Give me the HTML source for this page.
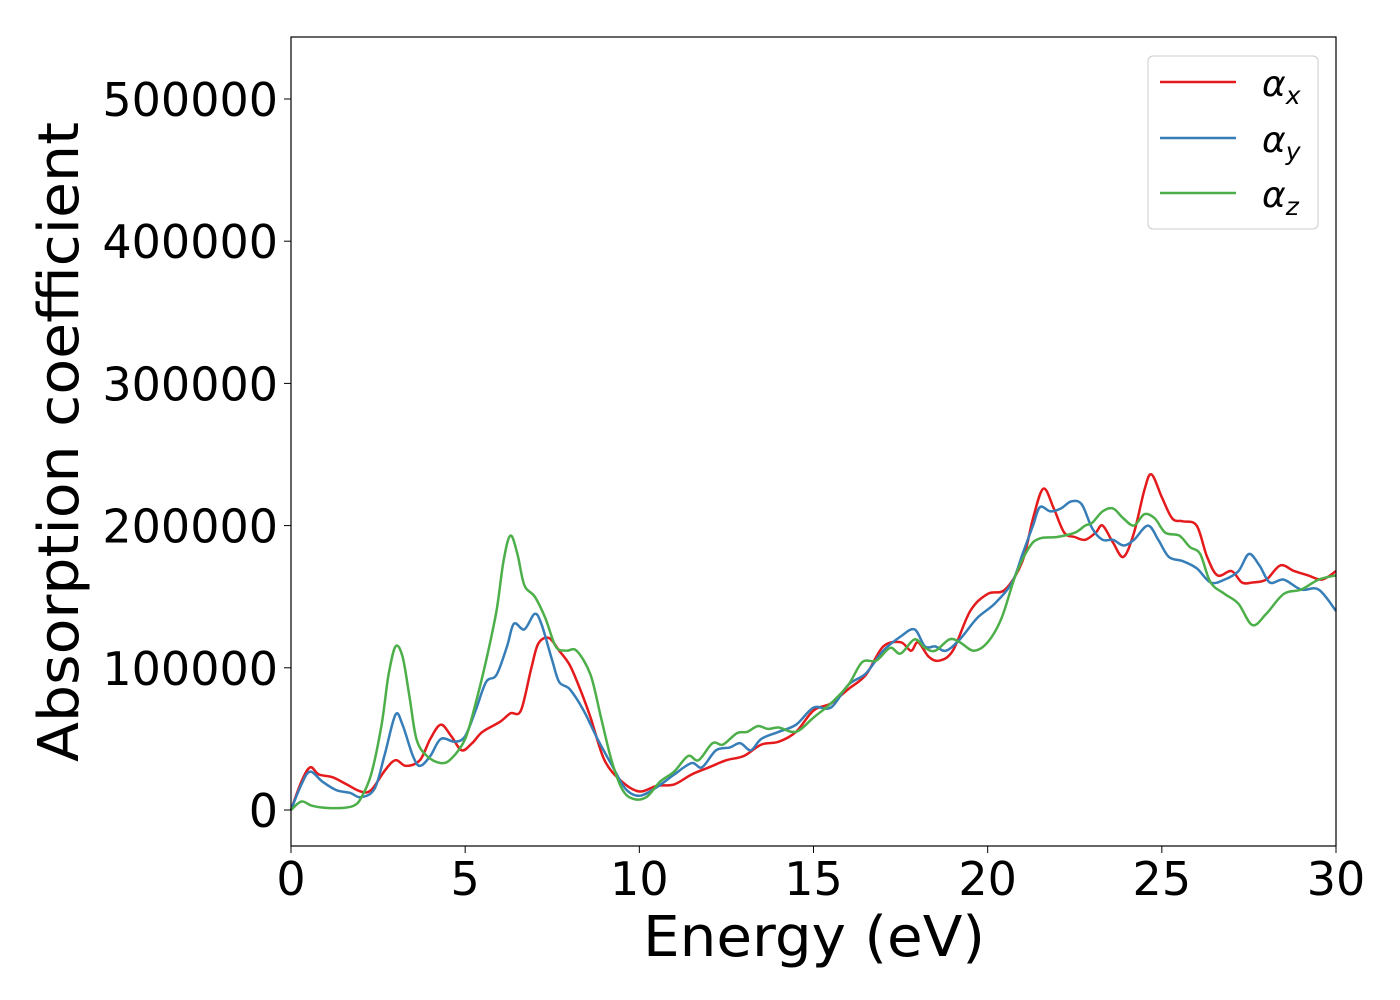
<!DOCTYPE html>
<html><head><meta charset="utf-8"><style>
body{margin:0;background:#fff;}
svg{display:block;font-family:"DejaVu Sans","Liberation Sans",sans-serif;}
</style></head><body>
<svg id="chart" width="1400" height="1000" viewBox="0 0 1400 1000" xmlns="http://www.w3.org/2000/svg">
<rect x="0" y="0" width="1400" height="1000" fill="#fff"/>
<g id="series"></g>
<rect x="291" y="37" width="1045" height="809" fill="none" stroke="#000" stroke-width="1.2"/>
<g id="xticks"></g><g id="yticks"></g>
<text x="814" y="956" font-size="56" text-anchor="middle" textLength="342" lengthAdjust="spacingAndGlyphs">Energy (eV)</text>
<text transform="translate(78,442) rotate(-90)" font-size="56" text-anchor="middle" textLength="640" lengthAdjust="spacingAndGlyphs">Absorption coefficient</text>
<g>
<rect x="1148" y="56" width="170" height="173" rx="5" fill="#fff" stroke="#ccc" stroke-width="1"/>
<line x1="1160" y1="82" x2="1236" y2="82" stroke="#e41a1c" stroke-width="2.5"/>
<line x1="1160" y1="138" x2="1236" y2="138" stroke="#377eb8" stroke-width="2.5"/>
<line x1="1160" y1="193" x2="1236" y2="193" stroke="#4daf4a" stroke-width="2.5"/>
<text x="1262" y="96" font-size="36" font-style="italic">α<tspan font-size="25" dy="8">x</tspan></text>
<text x="1262" y="152" font-size="36" font-style="italic">α<tspan font-size="25" dy="8">y</tspan></text>
<text x="1262" y="207" font-size="36" font-style="italic">α<tspan font-size="25" dy="8">z</tspan></text>
</g>
</svg>
<script>
const xTicks=[0,5,10,15,20,25,30];
const yTicks=[0,100000,200000,300000,400000,500000];
const ax=[[0,0],[0.3,20000],[0.55,30000],[0.8,25000],[1.2,23000],[1.6,18000],[2,13000],[2.3,14000],[2.7,28000],[3,35000],[3.3,31000],[3.7,35000],[4,50000],[4.3,60000],[4.6,52000],[4.9,42000],[5.2,47000],[5.5,55000],[6,62000],[6.3,68000],[6.6,70000],[6.9,100000],[7.1,117000],[7.4,121000],[7.7,112000],[8,102000],[8.3,85000],[8.6,65000],[9,35000],[9.5,20000],[10,13000],[10.5,17000],[11,18000],[11.5,25000],[12,30000],[12.5,35000],[13,38000],[13.5,46000],[14,48000],[14.5,55000],[15,70000],[15.5,75000],[16,85000],[16.5,95000],[17,115000],[17.5,118000],[17.8,112000],[18,118000],[18.3,108000],[18.6,105000],[19,112000],[19.5,140000],[20,152000],[20.5,155000],[21,175000],[21.3,205000],[21.6,226000],[21.9,212000],[22.2,195000],[22.5,192000],[22.8,190000],[23.1,195000],[23.3,200000],[23.6,188000],[23.9,178000],[24.2,195000],[24.5,225000],[24.7,236000],[25,220000],[25.3,205000],[25.6,203000],[26,200000],[26.3,178000],[26.6,165000],[27,168000],[27.3,160000],[27.6,160000],[28,162000],[28.4,172000],[28.8,168000],[29.2,165000],[29.6,162000],[30,168000]];
const ay=[[0,0],[0.3,18000],[0.55,27000],[0.9,20000],[1.3,14000],[1.7,12000],[2,9000],[2.4,15000],[2.7,40000],[3,67000],[3.2,60000],[3.5,38000],[3.7,31000],[4,38000],[4.3,50000],[4.7,48000],[5,52000],[5.3,70000],[5.6,90000],[5.9,95000],[6.2,115000],[6.4,131000],[6.7,127000],[7,138000],[7.2,130000],[7.5,105000],[7.7,90000],[8,85000],[8.4,70000],[8.8,50000],[9.2,32000],[9.6,15000],[10,10000],[10.5,16000],[11,25000],[11.5,33000],[11.8,30000],[12.2,42000],[12.6,44000],[12.9,47000],[13.2,42000],[13.5,50000],[14,55000],[14.5,60000],[15,72000],[15.5,72000],[16,88000],[16.5,96000],[17,112000],[17.5,122000],[17.9,127000],[18.2,115000],[18.5,115000],[18.8,112000],[19.2,120000],[19.7,135000],[20.2,145000],[20.7,160000],[21,180000],[21.3,200000],[21.5,213000],[21.8,210000],[22.1,212000],[22.4,217000],[22.7,215000],[23,198000],[23.3,190000],[23.6,190000],[23.9,186000],[24.2,190000],[24.6,200000],[24.9,190000],[25.2,178000],[25.6,175000],[26,170000],[26.4,160000],[26.8,162000],[27.2,168000],[27.5,180000],[27.8,172000],[28.1,160000],[28.5,162000],[29,155000],[29.5,155000],[30,140000]];
const az=[[0,0],[0.3,6000],[0.6,3000],[1,1500],[1.5,1500],[1.8,3000],[2,8000],[2.3,25000],[2.6,60000],[2.8,95000],[3,115000],[3.2,108000],[3.4,80000],[3.6,50000],[3.9,38000],[4.3,33000],[4.6,36000],[5,50000],[5.3,75000],[5.6,105000],[5.9,140000],[6.1,175000],[6.3,193000],[6.5,180000],[6.7,158000],[7,150000],[7.3,135000],[7.6,115000],[7.9,112000],[8.2,112000],[8.6,95000],[8.9,65000],[9.2,35000],[9.5,15000],[9.8,8000],[10.2,9000],[10.6,20000],[11,27000],[11.4,38000],[11.7,35000],[12.1,47000],[12.4,46000],[12.8,54000],[13.1,55000],[13.4,59000],[13.7,57000],[14,58000],[14.5,55000],[15,65000],[15.5,75000],[16,88000],[16.4,104000],[16.8,105000],[17.2,114000],[17.5,110000],[17.9,120000],[18.2,114000],[18.5,112000],[18.9,120000],[19.2,118000],[19.6,112000],[20,118000],[20.4,135000],[20.8,165000],[21.2,185000],[21.5,191000],[22,192000],[22.5,195000],[22.8,200000],[23,202000],[23.3,210000],[23.6,212000],[23.9,205000],[24.2,200000],[24.5,208000],[24.8,205000],[25.1,195000],[25.5,193000],[25.8,185000],[26.1,180000],[26.4,160000],[26.8,152000],[27.2,145000],[27.6,130000],[28,138000],[28.5,152000],[29,155000],[29.5,162000],[30,165000]];
const NS='http://www.w3.org/2000/svg';
const X0=291,X1=1336,XMIN=0,XMAX=30;
const Y0=810,YK=711/500000;
function sx(v){return X0+(v-XMIN)/(XMAX-XMIN)*(X1-X0);}
function sy(v){return Y0-v*YK;}
function pathFor(d){
  const p=d.map(q=>[sx(q[0]),sy(q[1])]);
  let s='M'+p[0][0].toFixed(1)+','+p[0][1].toFixed(1);
  for(let i=0;i<p.length-1;i++){
    const a=p[Math.max(0,i-1)],b=p[i],c=p[i+1],e=p[Math.min(p.length-1,i+2)];
    const c1=[b[0]+(c[0]-a[0])/6,b[1]+(c[1]-a[1])/6],c2=[c[0]-(e[0]-b[0])/6,c[1]-(e[1]-b[1])/6];
    s+='C'+c1.map(v=>v.toFixed(1))+' '+c2.map(v=>v.toFixed(1))+' '+c.map(v=>v.toFixed(1));
  }
  return s;
}
const g=document.getElementById('series');
[[ax,'#e41a1c','alpha-x-line'],[ay,'#377eb8','alpha-y-line'],[az,'#4daf4a','alpha-z-line']].forEach(([d,c,n])=>{
  const el=document.createElementNS(NS,'path');
  el.setAttribute('d',pathFor(d));el.setAttribute('fill','none');el.setAttribute('stroke',c);el.setAttribute('stroke-width','2.5');
  
  
  g.appendChild(el);
});
const xt=document.getElementById('xticks');
xTicks.forEach(v=>{
  const l=document.createElementNS(NS,'line');
  l.setAttribute('x1',sx(v));l.setAttribute('x2',sx(v));l.setAttribute('y1',846);l.setAttribute('y2',853);l.setAttribute('stroke','#000');
  
  
  xt.appendChild(l);
  const t=document.createElementNS(NS,'text');
  t.setAttribute('x',sx(v));t.setAttribute('y',895);t.setAttribute('font-size','46');t.setAttribute('text-anchor','middle');t.textContent=v;
  
  
  xt.appendChild(t);
});
const yt=document.getElementById('yticks');
yTicks.forEach(v=>{
  const l=document.createElementNS(NS,'line');
  l.setAttribute('x1',284);l.setAttribute('x2',291);l.setAttribute('y1',sy(v));l.setAttribute('y2',sy(v));l.setAttribute('stroke','#000');
  
  
  yt.appendChild(l);
  const t=document.createElementNS(NS,'text');
  t.setAttribute('x',278);t.setAttribute('y',sy(v)+17);t.setAttribute('font-size','46');t.setAttribute('text-anchor','end');t.textContent=v;
  
  
  yt.appendChild(t);
});
</script>
</body></html>
